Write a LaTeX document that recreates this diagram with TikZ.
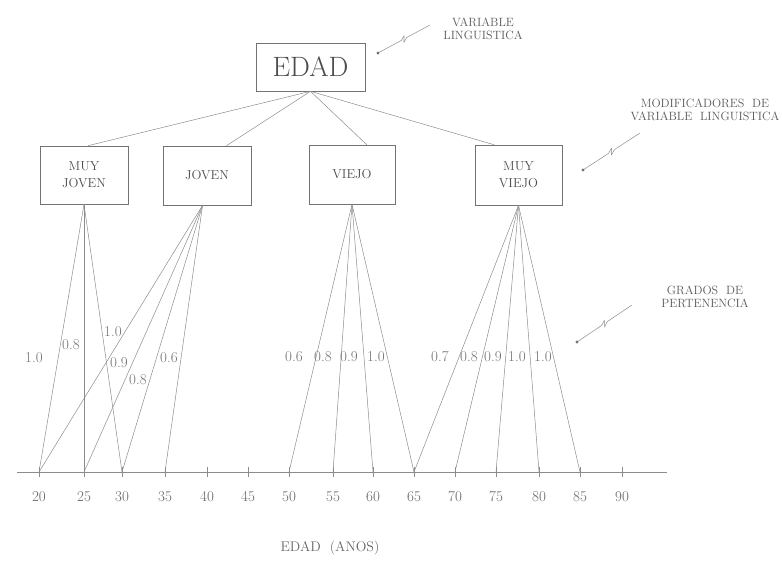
\documentclass[tikz,border=0pt]{standalone}
\usetikzlibrary{calc}
\begin{document}
\begin{tikzpicture}[x=1pt,y=-1pt,
  ln/.style={draw=black!45, line width=0.5pt},
  boxst/.style={draw=black!55, line width=0.6pt, inner sep=0pt, align=center,
    text=black!70, font=\fontsize{13}{17}\selectfont},
  lbl/.style={text=black!65, font=\fontsize{12}{13.5}\selectfont, align=center, inner sep=0pt},
  num/.style={text=black!60, font=\fontsize{15}{16}\selectfont, inner sep=0pt},
  deg/.style={text=black!55, font=\fontsize{15}{16}\selectfont, inner sep=0pt}]
\useasboundingbox (0,0) rectangle (782,577);

% top node
\node[boxst, minimum width=109pt, minimum height=48pt, font=\fontsize{28}{30}\selectfont] (edad) at (310.5,67) {EDAD};

% modifier boxes
\node[boxst, minimum width=88pt, minimum height=58pt] (mj) at (84,175) {MUY\\JOVEN};
\node[boxst, minimum width=88pt, minimum height=59pt] (jv) at (207,175.5) {JOVEN};
\node[boxst, minimum width=86pt, minimum height=59pt] (vj) at (352,174.5) {VIEJO};
\node[boxst, minimum width=87pt, minimum height=60pt] (mv) at (518.5,175) {MUY\\VIEJO};

% edges from EDAD
\draw[ln] (edad.south) -- ($(mj.north west)!0.545!(mj.north east)$);
\draw[ln] (edad.south) -- ($(jv.north west)!0.72!(jv.north east)$);
\draw[ln] (edad.south) -- ($(vj.north west)!0.67!(vj.north east)$);
\draw[ln] (edad.south) -- ($(mv.north west)!0.22!(mv.north east)$);

% bottom points
\coordinate (mjb) at (mj.south);
\coordinate (jvb) at ($(jv.south west)!0.45!(jv.south east)$);
\coordinate (vjb) at (vj.south);
\coordinate (mvb) at (mv.south);

% axis
\coordinate (axl) at (17,472);
\coordinate (axr) at (667,472);
\draw[ln] (axl) -- (axr);
\foreach \v/\x in {20/39,25/84,30/122,35/165,40/207,45/248,50/289,55/333,60/373,65/414,70/455,75/496,80/539,85/580,90/622}{
  \coordinate (t\v) at (\x,472);
  \draw[ln] (\x,467) -- (\x,477);
  \node[num] (l\v) at (\x,497) {\v};
}

% membership lines
\foreach \t in {20,25,30} \draw[ln] (mjb) -- (t\t);
\foreach \t in {20,25,30,35} \draw[ln] (jvb) -- (t\t);
\foreach \t in {50,55,60,65} \draw[ln] (vjb) -- (t\t);
\foreach \t in {65,70,75,80,85} \draw[ln] (mvb) -- (t\t);

% membership degrees
\node[deg] (d1) at (34,358) {1.0};
\node[deg] (d2) at (71,345) {0.8};
\node[deg] (d3) at (113,332) {1.0};
\node[deg] (d4) at (119,363) {0.9};
\node[deg] (d5) at (138,380) {0.8};
\node[deg] (d6) at (169,358) {0.6};
\node[deg] (d7) at (294,357) {0.6};
\node[deg] (d8) at (323,357) {0.8};
\node[deg] (d9) at (349,357) {0.9};
\node[deg] (d10) at (376,357) {1.0};
\node[deg] (d11) at (440,357) {0.7};
\node[deg] (d12) at (469,357) {0.8};
\node[deg] (d13) at (493,357) {0.9};
\node[deg] (d14) at (517,357) {1.0};
\node[deg] (d15) at (543,357) {1.0};

% annotations
\node[lbl] (vl) at (483,29) {VARIABLE\\LINGUISTICA};
\node[lbl] (md) at (705,110) {MODIFICADORES\ \ DE\\VARIABLE\ \ LINGUISTICA};
\node[lbl] (gp) at (705,297) {GRADOS\ \ DE\\PERTENENCIA};
\node[text=black!60, font=\fontsize{14}{16}\selectfont, inner sep=0pt] (xl) at (330,548) {EDAD\ \ (ANOS)};

% lightning pointers
\foreach \s/\e in {{430,25}/{378,53},{640,133}/{583,170},{632,305}/{577,342}}{
  \coordinate (ps) at (\s);
  \coordinate (pe) at (\e);
  \draw[ln, line join=bevel] (ps) -- ($(ps)!0.45!(pe)$) -- ($(ps)!0.53!(pe)!3pt!90:(pe)$)
     -- ($(ps)!0.47!(pe)!3pt!-90:(pe)$) -- ($(ps)!0.55!(pe)$) -- (pe);
  \fill[black!55] (pe) circle (1.6pt);
}
\end{tikzpicture}
\end{document}
